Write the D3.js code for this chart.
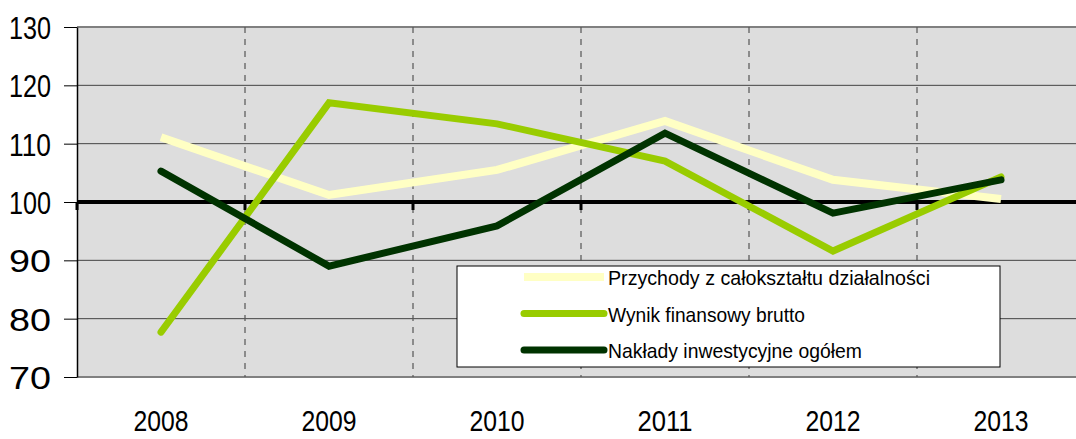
<!DOCTYPE html>
<html lang="pl">
<head>
<meta charset="UTF-8">
<title>Dynamika</title>
<script src="https://cdn.jsdelivr.net/npm/d3@7"></script>
<style>
  body { margin: 0; background: #fff; }
  svg text { font-family: "Liberation Sans", Arial, sans-serif; fill: #000; }
</style>
</head>
<body>
<script>
// data
const years = ["2008", "2009", "2010", "2011", "2012", "2013"];
const przychody = [111.1, 101.2, 105.5, 113.9, 103.8, 100.5];
const wynik = [77.7, 117.0, 113.4, 107.0, 91.6, 104.3];
const naklady = [105.3, 89.0, 95.9, 111.8, 98.1, 103.8];
const yTicks = [70, 80, 90, 100, 110, 120, 130];
const seriesNames = ["Przychody z całokształtu działalności", "Wynik finansowy brutto", "Nakłady inwestycyjne ogółem"];

const W = 1076, H = 439;
const plotLeft = 77, plotTop = 27, plotBottom = 377;

const svg = d3.select("body").append("svg")
  .attr("width", W).attr("height", H);

const x = d3.scaleBand().domain(years).range([plotLeft, plotLeft + 6 * 168]);
const y = d3.scaleLinear().domain([70, 130]).range([plotBottom, plotTop]);

// plot background
svg.append("rect")
  .attr("x", plotLeft).attr("y", plotTop)
  .attr("width", W - plotLeft).attr("height", plotBottom - plotTop)
  .attr("fill", "#dddddd");

// horizontal grid
svg.append("g").selectAll("line")
  .data([80, 90, 110, 120])
  .join("line")
  .attr("x1", plotLeft).attr("x2", W)
  .attr("y1", d => y(d)).attr("y2", d => y(d))
  .attr("stroke", "#444").attr("stroke-width", 1);

// top & bottom border
svg.append("g").selectAll("line")
  .data([70, 130])
  .join("line")
  .attr("x1", plotLeft).attr("x2", W)
  .attr("y1", d => y(d)).attr("y2", d => y(d))
  .attr("stroke", "#808080").attr("stroke-width", 2);

// dashed verticals at category boundaries
const bounds = years.slice(1).map(d => x(d));
svg.append("g").selectAll("line")
  .data(bounds)
  .join("line")
  .attr("x1", d => d).attr("x2", d => d)
  .attr("y1", plotTop).attr("y2", plotBottom)
  .attr("stroke", "#555").attr("stroke-width", 1.2)
  .attr("stroke-dasharray", "6,6");

// left axis
const yAxis = svg.append("g")
  .attr("transform", `translate(${plotLeft},0)`)
  .call(d3.axisLeft(y).tickValues(yTicks).tickSize(13).tickPadding(13).tickSizeOuter(0));
yAxis.select(".domain").attr("stroke", "#000").attr("stroke-width", 1.5);
yAxis.selectAll(".tick line").attr("stroke", "#000");
yAxis.selectAll("text")
  .attr("font-size", 32)
  .attr("textLength", 42)
  .attr("lengthAdjust", "spacingAndGlyphs")
  .attr("dy", "0.36em");

// 100 line with ticks
svg.append("line")
  .attr("x1", plotLeft).attr("x2", W)
  .attr("y1", y(100)).attr("y2", y(100))
  .attr("stroke", "#000").attr("stroke-width", 4);
svg.append("g").selectAll("line")
  .data([plotLeft].concat(bounds))
  .join("line")
  .attr("x1", d => d).attr("x2", d => d)
  .attr("y1", y(100)).attr("y2", y(100) + 8)
  .attr("stroke", "#000").attr("stroke-width", 3);

// x labels
svg.append("g").selectAll("text")
  .data(years)
  .join("text")
  .attr("x", d => x(d) + x.bandwidth() / 2)
  .attr("y", 431)
  .attr("text-anchor", "middle")
  .attr("font-size", 30)
  .attr("textLength", 55)
  .attr("lengthAdjust", "spacingAndGlyphs")
  .text(d => d);

// lines
const line = d3.line()
  .x((d, i) => x(years[i]) + x.bandwidth() / 2)
  .y(d => y(d));

const series = [
  { values: przychody, color: "#ffffc4", width: 8, cap: "butt" },
  { values: wynik, color: "#99cc00", width: 7, cap: "round" },
  { values: naklady, color: "#003300", width: 7, cap: "round" }
];

series.forEach(s => {
  svg.append("path")
    .datum(s.values)
    .attr("d", line)
    .attr("fill", "none")
    .attr("stroke", s.color)
    .attr("stroke-width", s.width)
    .attr("stroke-linecap", s.cap)
    .attr("stroke-linejoin", "miter");
});

// legend
const legend = svg.append("g");
legend.append("rect")
  .attr("x", 457).attr("y", 266)
  .attr("width", 543).attr("height", 101)
  .attr("fill", "#fff").attr("stroke", "#000").attr("stroke-width", 1);

const rows = legend.selectAll("g.row")
  .data(series)
  .join("g")
  .attr("class", "row")
  .attr("transform", (d, i) => `translate(0,${277 + i * 36.5})`);

rows.append("line")
  .attr("x1", 524).attr("x2", 604)
  .attr("stroke", d => d.color)
  .attr("stroke-width", d => d.width)
  .attr("stroke-linecap", d => d.cap);

rows.append("text")
  .attr("x", 608)
  .attr("y", 8)
  .attr("font-size", 21)
  .attr("textLength", (d, i) => [322, 197, 254][i])
  .attr("lengthAdjust", "spacingAndGlyphs")
  .text((d, i) => seriesNames[i]);
</script>
</body>
</html>
